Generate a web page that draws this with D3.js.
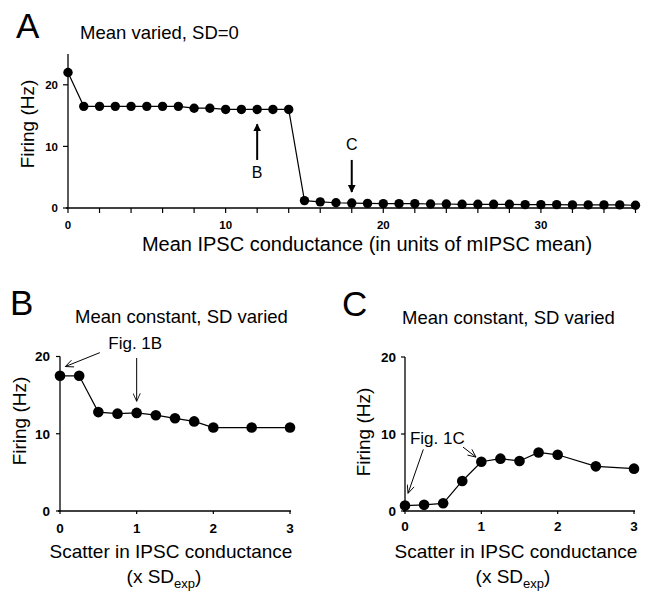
<!DOCTYPE html>
<html><head><meta charset="utf-8">
<script src="https://cdn.jsdelivr.net/npm/d3@7"></script>
<style>
html,body{margin:0;padding:0;background:#fff;}
svg{display:block;font-family:"Liberation Sans",Arial,Helvetica,sans-serif;}
</style></head>
<body><svg id="c" width="651" height="592"></svg>
<script>
// ---- Data ----
const aConductance = [0,1,2,3,4,5,6,7,8,9,10,11,12,13,14,15,16,17,18,19,20,21,22,23,24,25,26,27,28,29,30,31,32,33,34,35,36];
const aFiring = [22.0,16.5,16.5,16.5,16.5,16.5,16.5,16.5,16.2,16.2,16.0,16.0,16.0,16.0,16.0,1.2,1.0,0.85,0.8,0.75,0.7,0.7,0.7,0.65,0.65,0.6,0.6,0.6,0.6,0.55,0.55,0.55,0.5,0.5,0.5,0.5,0.45];
const aXTicks = [0,2,4,6,8,10,12,14,16,18,20,22,24,26,28,30,32,34,36];
const aXLabels = [0,10,20,30];
const aYTicks = [0,10,20];

const bScatter = [0,0.25,0.5,0.75,1,1.25,1.5,1.75,2,2.5,3];
const bFiring = [17.5,17.5,12.8,12.6,12.7,12.4,12.0,11.6,10.8,10.8,10.8];
const cScatter = [0,0.25,0.5,0.75,1,1.25,1.5,1.75,2,2.5,3];
const cFiring = [0.7,0.8,1.0,3.9,6.4,6.8,6.5,7.6,7.3,5.8,5.5];
const bcXTicks = [0,1,2,3];
const bcYTicks = [0,10,20];

const svg = d3.select("#c");
svg.append("rect").attr("width",651).attr("height",592).attr("fill","#fff");

const defs = svg.append("defs");
defs.append("marker").attr("id","solidHead").attr("viewBox","0 0 10 10")
  .attr("refX",9).attr("refY",5).attr("markerWidth",4).attr("markerHeight",4.5)
  .attr("markerUnits","strokeWidth").attr("orient","auto")
  .append("path").attr("d","M0,0 L10,5 L0,10 Z").attr("fill","#000");
defs.append("marker").attr("id","openHead").attr("viewBox","0 0 10 10")
  .attr("refX",10).attr("refY",5).attr("markerWidth",10).attr("markerHeight",8)
  .attr("markerUnits","strokeWidth").attr("orient","auto")
  .append("path").attr("d","M0,0.5 L10,5 L0,9.5").attr("fill","none").attr("stroke","#000").attr("stroke-width",1.1);

function axes(g, x, y, xTicks, xLabels, yTicks, opt){
  const [x0,x1] = x.range(), [y0,y1] = y.range();
  g.append("line").attr("x1",x0-2).attr("x2",x1+1).attr("y1",y0).attr("y2",y0).attr("stroke","#000").attr("stroke-width",1.3);
  g.append("line").attr("x1",x0).attr("x2",x0).attr("y1",y0).attr("y2",y1).attr("stroke","#000").attr("stroke-width",1.3);
  g.selectAll(".xt").data(xTicks).join("line").attr("x1",d=>x(d)).attr("x2",d=>x(d))
    .attr("y1",y0).attr("y2",y0+opt.xTick).attr("stroke","#000").attr("stroke-width",1.2);
  g.selectAll(".xl").data(xLabels).join("text").attr("x",d=>x(d)).attr("y",y0+opt.xLabOff)
    .attr("text-anchor","middle").attr("font-size",opt.tickFont).attr("font-weight","bold").text(d=>d);
  g.selectAll(".yt").data(yTicks).join("line").attr("x1",x0-opt.yTick).attr("x2",x0)
    .attr("y1",d=>y(d)).attr("y2",d=>y(d)).attr("stroke","#000").attr("stroke-width",1.2);
  g.selectAll(".yl").data(yTicks).join("text").attr("x",x0-opt.yLabOff).attr("y",d=>y(d)+opt.tickFont*0.36)
    .attr("text-anchor","end").attr("font-size",opt.tickFont).attr("font-weight","bold").text(d=>d);
}
function series(g, x, y, xs, ys, r){
  const pts = xs.map((v,i)=>[v,ys[i]]);
  g.append("path").datum(pts).attr("fill","none").attr("stroke","#000").attr("stroke-width",1.2)
    .attr("d", d3.line().x(d=>x(d[0])).y(d=>y(d[1])));
  g.selectAll(".pt").data(pts).join("circle").attr("cx",d=>x(d[0])).attr("cy",d=>y(d[1]))
    .attr("r",r).attr("fill","#000");
}
function ylabel(g, cx, cy, size){
  g.append("text").attr("transform",`translate(${cx},${cy}) rotate(-90)`).attr("text-anchor","middle")
    .attr("dominant-baseline","central").attr("font-size",size).text("Firing (Hz)");
}
function arrow(g, x, y, p0, p1, kind){
  g.append("line").attr("x1",x(p0[0])).attr("y1",y(p0[1])).attr("x2",x(p1[0])).attr("y2",y(p1[1]))
    .attr("stroke","#000").attr("stroke-width",kind==="solid"?2:1)
    .attr("marker-end",`url(#${kind==="solid"?"solidHead":"openHead"})`);
}
function subLabel(g, cx, y){
  const t = g.append("text").attr("x",cx).attr("y",y).attr("text-anchor","middle").attr("font-size",19);
  t.append("tspan").text("(x SD");
  t.append("tspan").attr("dy",5).attr("font-size",13).text("exp");
  t.append("tspan").attr("dy",-5).text(")");
}

// ---- Panel A ----
const gA = svg.append("g");
const xA = d3.scaleLinear().domain([0,36]).range([68,635.5]);
const yA = d3.scaleLinear().domain([0,25]).range([208,54]);
axes(gA, xA, yA, aXTicks, aXLabels, aYTicks, {xTick:5, xLabOff:21, yTick:5, yLabOff:10, tickFont:11.5});
series(gA, xA, yA, aConductance, aFiring, 4.7);
ylabel(gA, 27, 124, 19);
gA.append("text").attr("x",367).attr("y",251).attr("text-anchor","middle").attr("font-size",20)
  .text("Mean IPSC conductance (in units of mIPSC mean)");
gA.append("text").attr("x",80).attr("y",39).attr("font-size",18.5).text("Mean varied, SD=0");
gA.append("text").attr("x",16).attr("y",38).attr("font-size",35).text("A");
arrow(gA, xA, yA, [12,7.8], [12,13.6], "solid");
gA.append("text").attr("x",xA(12)).attr("y",yA(4.9)).attr("text-anchor","middle").attr("font-size",16).text("B");
arrow(gA, xA, yA, [18,7.8], [18,2.6], "solid");
gA.append("text").attr("x",xA(18)).attr("y",yA(9.4)).attr("text-anchor","middle").attr("font-size",16).text("C");

// ---- Panel B ----
const gB = svg.append("g");
const xB = d3.scaleLinear().domain([0,3]).range([60,290]);
const yB = d3.scaleLinear().domain([0,20]).range([511,356.5]);
axes(gB, xB, yB, bcXTicks, bcXTicks, bcYTicks, {xTick:3, xLabOff:22, yTick:4, yLabOff:10, tickFont:13.5});
series(gB, xB, yB, bScatter, bFiring, 5.3);
ylabel(gB, 19, 421, 19);
gB.append("text").attr("x",171).attr("y",558).attr("text-anchor","middle").attr("font-size",19).text("Scatter in IPSC conductance");
subLabel(gB, 164, 583);
gB.append("text").attr("x",75).attr("y",323).attr("font-size",18.5).text("Mean constant, SD varied");
gB.append("text").attr("x",10).attr("y",315).attr("font-size",35).text("B");
gB.append("text").attr("x",xB(0.63)).attr("y",yB(21)).attr("font-size",17).text("Fig. 1B");
arrow(gB, xB, yB, [0.52,20.5], [0.07,18.7], "open");
arrow(gB, xB, yB, [1.0,19.8], [1.0,14.2], "open");

// ---- Panel C ----
const gC = svg.append("g");
const xC = d3.scaleLinear().domain([0,3]).range([405,634]);
const yC = d3.scaleLinear().domain([0,20]).range([511,357]);
axes(gC, xC, yC, bcXTicks, bcXTicks, bcYTicks, {xTick:3, xLabOff:20, yTick:4, yLabOff:9, tickFont:13.5});
series(gC, xC, yC, cScatter, cFiring, 5.3);
ylabel(gC, 363, 432, 19);
gC.append("text").attr("x",516).attr("y",558).attr("text-anchor","middle").attr("font-size",19).text("Scatter in IPSC conductance");
subLabel(gC, 513, 583);
gC.append("text").attr("x",402).attr("y",324).attr("font-size",18.5).text("Mean constant, SD varied");
gC.append("text").attr("x",342).attr("y",316).attr("font-size",35).text("C");
gC.append("text").attr("x",xC(0.065)).attr("y",yC(8.7)).attr("font-size",17).text("Fig. 1C");
arrow(gC, xC, yC, [0.24,8.0], [0.04,2.3], "open");
arrow(gC, xC, yC, [0.76,8.3], [0.93,7.0], "open");
</script></body></html>
